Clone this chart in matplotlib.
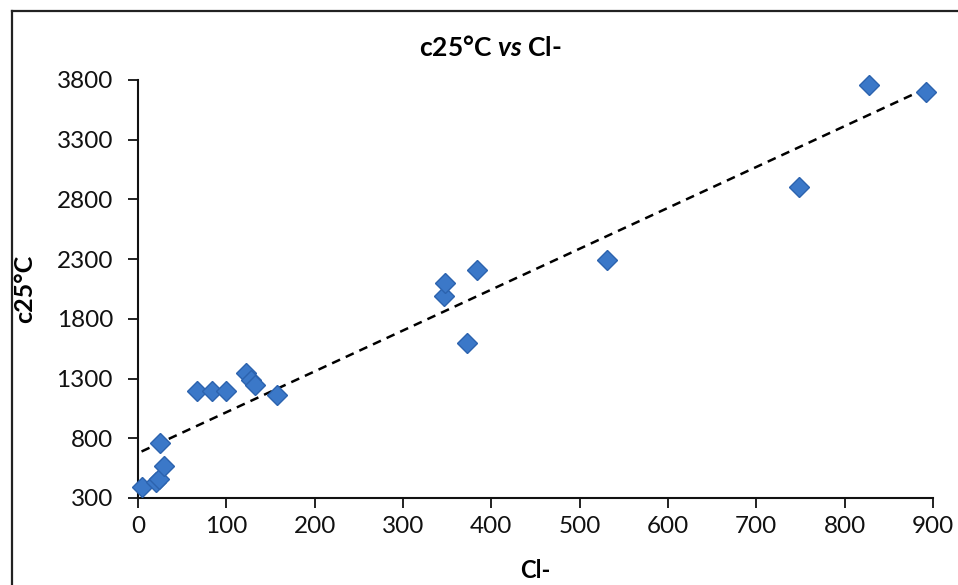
import numpy as np
import matplotlib
matplotlib.use("Agg")
import matplotlib.pyplot as plt
from matplotlib.lines import Line2D

plt.rcParams['font.family'] = ['Lato', 'DejaVu Sans']
plt.rcParams['mathtext.fontset'] = 'custom'
plt.rcParams['mathtext.it'] = 'Lato:bold:italic'
plt.rcParams['mathtext.rm'] = 'Lato:bold'

# Data
cl = [4, 20, 24, 29, 25, 67, 84, 100, 122, 128, 133, 157,
      346, 348, 372, 384, 531, 748, 828, 892]
c25 = [395, 430, 460, 565, 760, 1200, 1200, 1200, 1345, 1290, 1245, 1160,
       1990, 2100, 1595, 2210, 2295, 2905, 3755, 3700]
x_ticks = [0, 100, 200, 300, 400, 500, 600, 700, 800, 900]
y_ticks = [300, 800, 1300, 1800, 2300, 2800, 3300, 3800]

W, H = 958, 585
fig = plt.figure(figsize=(W / 100, H / 100), dpi=100)
ax = fig.add_axes([138 / W, 1 - 498 / H, (933 - 138) / W, (498 - 80) / H])

ax.plot(cl, c25, linestyle='none', marker='D', markersize=10,
        markerfacecolor='#3B78C8', markeredgecolor='#2C63AE',
        markeredgewidth=1.0, zorder=3, clip_on=False)

# linear trendline
m, b = np.polyfit(cl, c25, 1)
xs = np.array([min(cl), max(cl)])
ax.plot(xs, m * xs + b, linestyle=(0, (3.5, 2.5)), color='black',
        linewidth=1.8, zorder=2)

ax.set_xlim(0, 900)
ax.set_ylim(300, 3800)
ax.set_xticks(x_ticks)
ax.set_yticks(y_ticks)
ax.tick_params(axis='both', labelsize=17.5, length=7, width=1.3,
               colors='#111111', direction='out')
ax.tick_params(axis='x', pad=6)
ax.tick_params(axis='y', pad=11)
for s in ['top', 'right']:
    ax.spines[s].set_visible(False)
for s in ['left', 'bottom']:
    ax.spines[s].set_linewidth(1.5)
    ax.spines[s].set_color('#111111')

ax.set_xlabel('Cl-', fontsize=17, fontweight='bold')
ax.xaxis.set_label_coords(0.5, -0.145)
ax.set_ylabel('c25°C', fontsize=18, fontweight='bold')
ax.yaxis.set_label_coords(-0.128, 0.5)

fig.text(490 / W, 1 - 47 / H, r'c25°C $\mathit{vs}$ Cl-', fontsize=19,
         fontweight='bold', ha='center', va='center')

# outer chart frame
fig.add_artist(Line2D([12 / W, 1], [1 - 11 / H, 1 - 11 / H],
                      color='#222222', linewidth=1.6))
fig.add_artist(Line2D([12 / W, 12 / W], [1 - 11 / H, 0],
                      color='#222222', linewidth=1.6))

fig.savefig('out.png', dpi=100, facecolor='white')
